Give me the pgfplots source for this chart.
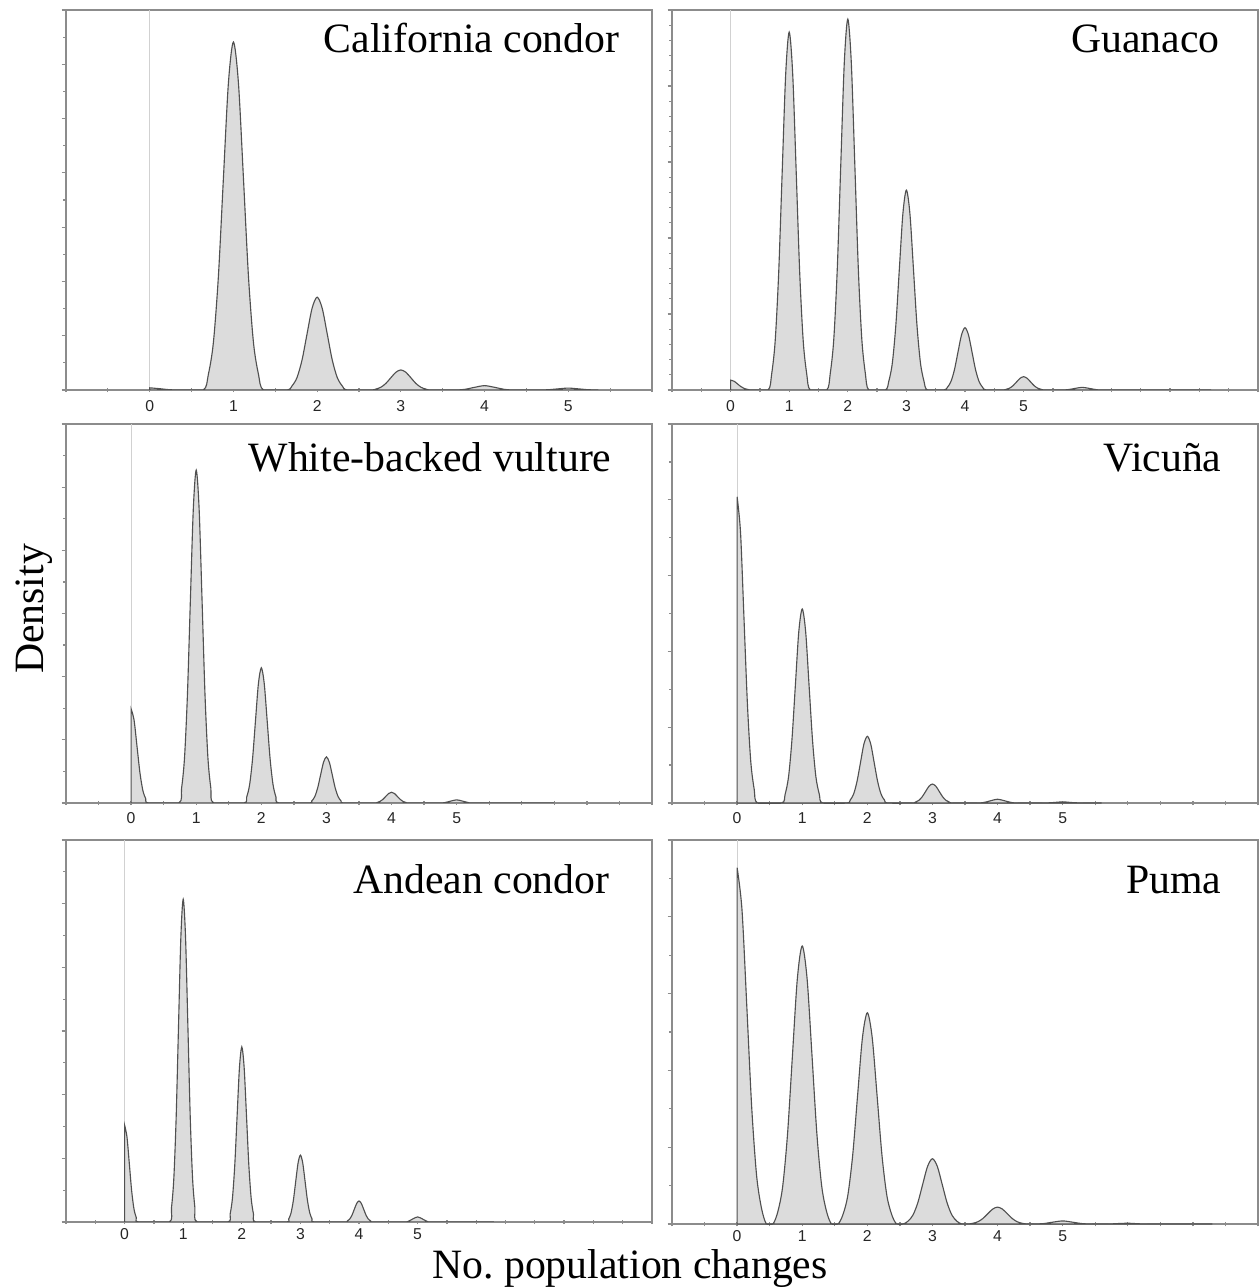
\documentclass[border=0pt]{standalone}
\usepackage{pgfplots}
\pgfplotsset{compat=1.18}
\usepackage{fontspec}
\setmainfont{Liberation Serif}
\newfontfamily\ticksans{Liberation Sans}
\definecolor{densfill}{HTML}{DCDCDC}
\definecolor{densline}{HTML}{505050}
\definecolor{framegray}{HTML}{8C8C8C}

\pgfplotsset{
  panel/.style={
    scale only axis, width=234.4pt,
    xmin=-1, ymin=0,
    axis line style={framegray, line width=0.7pt},
    tick pos=left,
    xtick align=center, ytick align=outside,
    major tick length=1.8pt, minor tick length=1.1pt,
    every tick/.style={framegray, line width=0.5pt},
    yticklabels={},
    xticklabels={{},{},0,{},1,{},2,{},3,{},4,{},5,{},{},{},{},{},{},{},{},{},{},{}},
    xticklabel style={font=\ticksans\fontsize{6.3}{7}\selectfont, text=black!85,
      text height=4.6pt, text depth=0pt},
  },
  density/.style={fill=densfill, draw=densline, line width=0.45pt, smooth, tension=0.5},
  zeroline/.style={black!18, line width=0.4pt},
}
\tikzset{paneltitle/.style={anchor=base east, inner sep=0pt, font=\fontsize{16.7}{20}\selectfont}}

\begin{document}
\begin{tikzpicture}
\useasboundingbox (0,0) rectangle (504pt,-515.2pt);

% California condor
\begin{axis}[panel, at={(26.4pt,-4pt)}, anchor=north west, height=152pt,
  xmax=6, ymax=7, xtick={-1,-0.5,...,6}, ytick={0,...,7}, minor y tick num=1,
  xticklabel shift=-0.4pt]
\addplot[zeroline] coordinates {(0,0) (0,7)};
\addplot[density] coordinates {
(0,0.04) (0.12,0.024) (0.24,0.005) (0.36,0)
(0.64,0) (0.7,0.282) (0.76,0.865) (0.82,2.083) (0.88,3.891) (0.94,5.654) (1,6.41) (1.06,5.654) (1.12,3.891) (1.18,2.083) (1.24,0.865) (1.3,0.282) (1.36,0)
(1.64,0) (1.7,0.075) (1.76,0.231) (1.82,0.556) (1.88,1.038) (1.94,1.508) (2,1.71) (2.06,1.508) (2.12,1.038) (2.18,0.556) (2.24,0.231) (2.3,0.075) (2.36,0)
(2.64,0) (2.7,0.016) (2.76,0.05) (2.82,0.12) (2.88,0.225) (2.94,0.326) (3,0.37) (3.06,0.326) (3.12,0.225) (3.18,0.12) (3.24,0.05) (3.3,0.016) (3.36,0)
(3.64,0) (3.76,0.011) (3.88,0.049) (4,0.08) (4.12,0.049) (4.24,0.011) (4.36,0)
(4.64,0) (4.76,0.005) (4.88,0.021) (5,0.035) (5.12,0.021) (5.24,0.005) (5.36,0)
} \closedcycle;
\node[paneltitle, xshift=-12.8pt, yshift=-16.8pt] at (rel axis cs:1,1) {California condor};
\end{axis}

% Guanaco
\begin{axis}[panel, at={(268.8pt,-4pt)}, anchor=north west, height=152pt,
  xmax=9, ymax=5, xtick={-1,-0.5,...,9}, ytick={0,...,5}, minor y tick num=4,
  xticklabel shift=-0.4pt]
\addplot[zeroline] coordinates {(0,0) (0,5)};
\addplot[density] coordinates {
(0,0.13) (0.06,0.115) (0.12,0.079) (0.18,0.042) (0.24,0.018) (0.3,0.006) (0.36,0)
(0.64,0) (0.7,0.207) (0.76,0.636) (0.82,1.531) (0.88,2.859) (0.94,4.154) (1,4.71) (1.06,4.154) (1.12,2.859) (1.18,1.531) (1.24,0.636) (1.3,0.207) (1.36,0)
(1.64,0) (1.7,0.215) (1.76,0.659) (1.82,1.586) (1.88,2.962) (1.94,4.304) (2,4.88) (2.06,4.304) (2.12,2.962) (2.18,1.586) (2.24,0.659) (2.3,0.215) (2.36,0)
(2.64,0) (2.7,0.116) (2.76,0.355) (2.82,0.855) (2.88,1.596) (2.94,2.32) (3,2.63) (3.06,2.32) (3.12,1.596) (3.18,0.855) (3.24,0.355) (3.3,0.116) (3.36,0)
(3.64,0) (3.7,0.036) (3.76,0.111) (3.82,0.267) (3.88,0.498) (3.94,0.723) (4,0.82) (4.06,0.723) (4.12,0.498) (4.18,0.267) (4.24,0.111) (4.3,0.036) (4.36,0)
(4.64,0) (4.7,0.008) (4.76,0.024) (4.82,0.057) (4.88,0.106) (4.94,0.154) (5,0.175) (5.06,0.154) (5.12,0.106) (5.18,0.057) (5.24,0.024) (5.3,0.008) (5.36,0)
(5.64,0) (5.76,0.005) (5.88,0.021) (6,0.035) (6.12,0.021) (6.24,0.005) (6.36,0)
(8.2,0)
} \closedcycle;
\node[paneltitle, xshift=-15.2pt, yshift=-16.8pt] at (rel axis cs:1,1) {Guanaco};
\end{axis}

% White-backed vulture
\begin{axis}[panel, at={(26.4pt,-169.6pt)}, anchor=north west, height=151.6pt,
  xmax=8, ymax=6, xtick={-1,-0.5,...,8}, ytick={0,...,6}, minor y tick num=1,
  xticklabel shift=-0.8pt]
\addplot[zeroline] coordinates {(0,0) (0,6)};
\addplot[density] coordinates {
(0,1.49) (0.045,1.314) (0.09,0.904) (0.135,0.484) (0.18,0.201) (0.225,0.066) (0.27,0)
(0.73,0) (0.775,0.232) (0.82,0.711) (0.865,1.713) (0.91,3.199) (0.955,4.648) (1,5.27) (1.045,4.648) (1.09,3.199) (1.135,1.713) (1.18,0.711) (1.225,0.232) (1.27,0)
(1.73,0) (1.775,0.094) (1.82,0.289) (1.865,0.696) (1.91,1.299) (1.955,1.887) (2,2.14) (2.045,1.887) (2.09,1.299) (2.135,0.696) (2.18,0.289) (2.225,0.094) (2.27,0)
(2.73,0) (2.775,0.032) (2.82,0.099) (2.865,0.237) (2.91,0.443) (2.955,0.644) (3,0.73) (3.045,0.644) (3.09,0.443) (3.135,0.237) (3.18,0.099) (3.225,0.032) (3.27,0)
(3.73,0) (3.775,0.007) (3.82,0.023) (3.865,0.055) (3.91,0.103) (3.955,0.15) (4,0.17) (4.045,0.15) (4.09,0.103) (4.135,0.055) (4.18,0.023) (4.225,0.007) (4.27,0)
(4.73,0) (4.82,0.007) (4.91,0.03) (5,0.05) (5.09,0.03) (5.18,0.007) (5.27,0)
(6.5,0)
} \closedcycle;
\node[paneltitle, xshift=-16pt, yshift=-18.8pt] at (rel axis cs:1,1) {White-backed vulture};
\end{axis}

% Vicuna
\begin{axis}[panel, at={(268.8pt,-169.6pt)}, anchor=north west, height=151.6pt,
  xmax=8, ymax=5, xtick={-1,-0.5,...,8}, ytick={0,...,5}, minor y tick num=1,
  xticklabel shift=-0.8pt]
\addplot[zeroline] coordinates {(0,0) (0,5)};
\addplot[density] coordinates {
(0,4.04) (0.053,3.563) (0.105,2.452) (0.158,1.313) (0.21,0.545) (0.263,0.178) (0.315,0)
(0.685,0) (0.737,0.113) (0.79,0.346) (0.842,0.832) (0.895,1.554) (0.947,2.258) (1,2.56) (1.053,2.258) (1.105,1.554) (1.158,0.832) (1.21,0.346) (1.263,0.113) (1.315,0)
(1.685,0) (1.737,0.039) (1.79,0.119) (1.842,0.286) (1.895,0.534) (1.947,0.776) (2,0.88) (2.053,0.776) (2.105,0.534) (2.158,0.286) (2.21,0.119) (2.263,0.039) (2.315,0)
(2.685,0) (2.737,0.011) (2.79,0.034) (2.842,0.081) (2.895,0.152) (2.947,0.221) (3,0.25) (3.053,0.221) (3.105,0.152) (3.158,0.081) (3.21,0.034) (3.263,0.011) (3.315,0)
(3.685,0) (3.79,0.007) (3.895,0.03) (4,0.05) (4.105,0.03) (4.21,0.007) (4.315,0)
(4.685,0) (4.843,0.005) (5,0.015) (5.158,0.005) (5.315,0)
(5.6,0)
} \closedcycle;
\node[paneltitle, xshift=-14.4pt, yshift=-18.8pt] at (rel axis cs:1,1) {Vicuña};
\end{axis}

% Andean condor
\begin{axis}[panel, at={(26.4pt,-336pt)}, anchor=north west, height=152.8pt,
  xmax=9, ymax=6, xtick={-1,-0.5,...,9}, ytick={0,...,6}, minor y tick num=1,
  xticklabel shift=-2pt]
\addplot[zeroline] coordinates {(0,0) (0,6)};
\addplot[density] coordinates {
(0,1.52) (0.04,1.341) (0.08,0.923) (0.12,0.494) (0.16,0.205) (0.2,0.067) (0.24,0)
(0.76,0) (0.8,0.223) (0.84,0.684) (0.88,1.648) (0.92,3.077) (0.96,4.472) (1,5.07) (1.04,4.472) (1.08,3.077) (1.12,1.648) (1.16,0.684) (1.2,0.223) (1.24,0)
(1.76,0) (1.8,0.121) (1.84,0.371) (1.88,0.894) (1.92,1.669) (1.96,2.426) (2,2.75) (2.04,2.426) (2.08,1.669) (2.12,0.894) (2.16,0.371) (2.2,0.121) (2.24,0)
(2.76,0) (2.8,0.046) (2.84,0.142) (2.88,0.341) (2.92,0.637) (2.96,0.926) (3,1.05) (3.04,0.926) (3.08,0.637) (3.12,0.341) (3.16,0.142) (3.2,0.046) (3.24,0)
(3.76,0) (3.8,0.015) (3.84,0.045) (3.88,0.107) (3.92,0.2) (3.96,0.291) (4,0.33) (4.04,0.291) (4.08,0.2) (4.12,0.107) (4.16,0.045) (4.2,0.015) (4.24,0)
(4.76,0) (4.84,0.011) (4.92,0.049) (5,0.08) (5.08,0.049) (5.16,0.011) (5.24,0)
(6.3,0)
} \closedcycle;
\node[paneltitle, xshift=-16.8pt, yshift=-21.2pt] at (rel axis cs:1,1) {Andean condor};
\end{axis}

% Puma
\begin{axis}[panel, at={(268.8pt,-336pt)}, anchor=north west, height=153.6pt,
  xmax=8, ymax=5, xtick={-1,-0.5,...,8}, ytick={0,...,5}, minor y tick num=1,
  xticklabel shift=-2pt]
\addplot[zeroline] coordinates {(0,0) (0,5)};
\addplot[density] coordinates {
(0,4.64) (0.075,4.092) (0.15,2.816) (0.225,1.508) (0.3,0.626) (0.375,0.204) (0.45,0)
(0.55,0) (0.625,0.159) (0.7,0.489) (0.775,1.177) (0.85,2.197) (0.925,3.193) (1,3.62) (1.075,3.193) (1.15,2.197) (1.225,1.177) (1.3,0.489) (1.375,0.159) (1.45,0)
(1.55,0) (1.625,0.121) (1.7,0.371) (1.775,0.894) (1.85,1.669) (1.925,2.426) (2,2.75) (2.075,2.426) (2.15,1.669) (2.225,0.894) (2.3,0.371) (2.375,0.121) (2.45,0)
(2.55,0) (2.625,0.037) (2.7,0.115) (2.775,0.276) (2.85,0.516) (2.925,0.75) (3,0.85) (3.075,0.75) (3.15,0.516) (3.225,0.276) (3.3,0.115) (3.375,0.037) (3.45,0)
(3.55,0) (3.625,0.01) (3.7,0.03) (3.775,0.072) (3.85,0.134) (3.925,0.194) (4,0.22) (4.075,0.194) (4.15,0.134) (4.225,0.072) (4.3,0.03) (4.375,0.01) (4.45,0)
(4.55,0) (4.7,0.005) (4.85,0.024) (5,0.04) (5.15,0.024) (5.3,0.005) (5.45,0)
(5.7,0) (6,0.01) (6.3,0)
(7.3,0)
} \closedcycle;
\node[paneltitle, xshift=-14.4pt, yshift=-21.2pt] at (rel axis cs:1,1) {Puma};
\end{axis}

\node[rotate=90, anchor=base, font=\fontsize{16.7}{20}\selectfont] at (17.2pt,-243.6pt) {Density};
\node[anchor=base, font=\fontsize{16.7}{20}\selectfont] at (252pt,-511.2pt) {No.\ population changes};
\end{tikzpicture}
\end{document}
